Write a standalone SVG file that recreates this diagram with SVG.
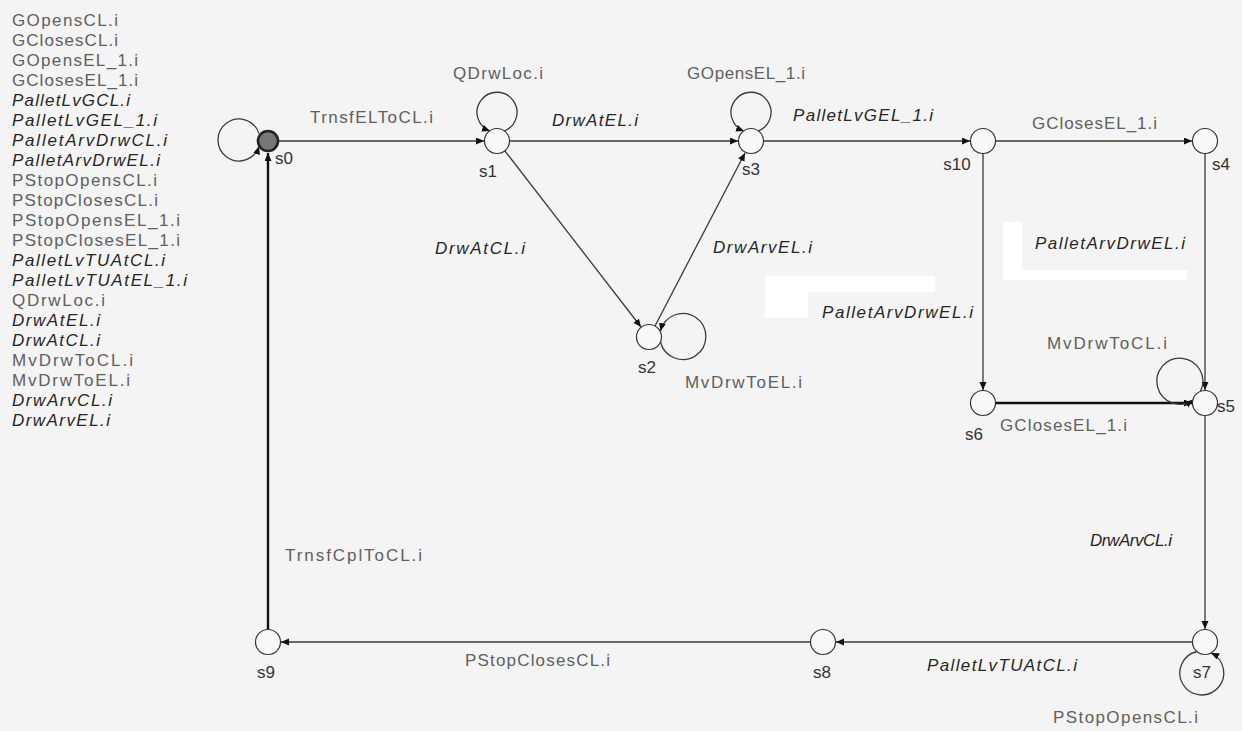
<svg xmlns="http://www.w3.org/2000/svg" width="1242" height="731" viewBox="0 0 1242 731">
  <style>
    text { font-family: "Liberation Sans", Arial, sans-serif; font-size: 17px; }
    .up { fill: #606060; }
    .it { fill: #262626; font-style: italic; }
    .nl { fill: #333; text-anchor: middle; }
    .edge { fill: none; stroke: #3a3a3a; stroke-width: 1.3; marker-end: url(#arr); }
    .bold { stroke: #111; stroke-width: 2.4; }
    .node { fill: #f8f8f8; stroke: #333; stroke-width: 1.2; }
  </style>
  <defs>
    <marker id="arr" markerWidth="9" markerHeight="8" refX="8" refY="3.5" orient="auto" markerUnits="userSpaceOnUse">
      <path d="M0,0 L8,3.5 L0,7 z" fill="#111"/>
    </marker>
  </defs>

  <rect width="1242" height="731" fill="#f4f4f4"/>

  <!-- white patches behind the right-hand labels -->
  <polygon points="765,276 935,276 935,292 808,292 808,318 765,318" fill="#ffffff"/>
  <polygon points="1003,222 1022,222 1022,270 1187,270 1187,280 1003,280" fill="#ffffff"/>

  <!-- event list -->
  <g id="event-list">
    <text class="up" x="12" y="26" textLength="106" lengthAdjust="spacing">GOpensCL.i</text>
    <text class="up" x="12" y="46" textLength="106" lengthAdjust="spacing">GClosesCL.i</text>
    <text class="up" x="12" y="66" textLength="126" lengthAdjust="spacing">GOpensEL_1.i</text>
    <text class="up" x="12" y="86" textLength="126" lengthAdjust="spacing">GClosesEL_1.i</text>
    <text class="it" x="12" y="106" textLength="118" lengthAdjust="spacing">PalletLvGCL.i</text>
    <text class="it" x="12" y="126" textLength="145" lengthAdjust="spacing">PalletLvGEL_1.i</text>
    <text class="it" x="12" y="146" textLength="155" lengthAdjust="spacing">PalletArvDrwCL.i</text>
    <text class="it" x="12" y="166" textLength="148" lengthAdjust="spacing">PalletArvDrwEL.i</text>
    <text class="up" x="12" y="186" textLength="145" lengthAdjust="spacing">PStopOpensCL.i</text>
    <text class="up" x="12" y="206" textLength="146" lengthAdjust="spacing">PStopClosesCL.i</text>
    <text class="up" x="12" y="226" textLength="168" lengthAdjust="spacing">PStopOpensEL_1.i</text>
    <text class="up" x="12" y="246" textLength="168" lengthAdjust="spacing">PStopClosesEL_1.i</text>
    <text class="it" x="12" y="266" textLength="153" lengthAdjust="spacing">PalletLvTUAtCL.i</text>
    <text class="it" x="12" y="286" textLength="175" lengthAdjust="spacing">PalletLvTUAtEL_1.i</text>
    <text class="up" x="12" y="306" textLength="93" lengthAdjust="spacing">QDrwLoc.i</text>
    <text class="it" x="12" y="326" textLength="88" lengthAdjust="spacing">DrwAtEL.i</text>
    <text class="it" x="12" y="346" textLength="88" lengthAdjust="spacing">DrwAtCL.i</text>
    <text class="up" x="12" y="366" textLength="121" lengthAdjust="spacing">MvDrwToCL.i</text>
    <text class="up" x="12" y="386" textLength="118" lengthAdjust="spacing">MvDrwToEL.i</text>
    <text class="it" x="12" y="406" textLength="100" lengthAdjust="spacing">DrwArvCL.i</text>
    <text class="it" x="12" y="426" textLength="98" lengthAdjust="spacing">DrwArvEL.i</text>
  </g>

  <!-- transitions -->
  <g id="connectors">
    <path class="edge" d="M279,141 L484,141"/>
    <path class="edge" d="M510,141 L738,141"/>
    <path class="edge" d="M764,141 L970,141"/>
    <path class="edge" d="M996,141 L1192,141"/>
    <path class="edge" d="M983,154 L983,390"/>
    <path class="edge" d="M1205,154 L1205,390"/>
    <path class="edge bold" d="M996,403 L1192,403"/>
    <path class="edge" d="M1205,416 L1205,629"/>
    <path class="edge" d="M1192,642 L836,642"/>
    <path class="edge" d="M810,642 L281,642"/>
    <path class="edge bold" d="M268,629 L268,153"/>
    <path class="edge" d="M505,151 L641,327"/>
    <path class="edge" d="M655,326 L745,153"/>
    <!-- self loops -->
    <path class="edge" d="M259,133.6 A21,21 0 1 0 259,146.4"/>
    <path class="edge" d="M504,131 A20,20 0 1 0 490,131"/>
    <path class="edge" d="M758,131 A20,20 0 1 0 744,131"/>
    <path class="edge" d="M660.5,342 A23,23 0 1 0 660.5,331"/>
    <path class="edge" d="M1200.5,391.3 A23,23 0 1 0 1192.9,400.1"/>
    <path class="edge" d="M1197,651.5 A22,22 0 1 0 1211,653"/>
  </g>

  <!-- transition labels -->
  <g id="edge-labels">
    <text class="up" x="310" y="123" textLength="123" lengthAdjust="spacing">TrnsfELToCL.i</text>
    <text class="up" x="453" y="79" textLength="90" lengthAdjust="spacing">QDrwLoc.i</text>
    <text class="it" x="552" y="126" textLength="86" lengthAdjust="spacing">DrwAtEL.i</text>
    <text class="up" x="687" y="79" textLength="118" lengthAdjust="spacing">GOpensEL_1.i</text>
    <text class="it" x="793" y="121" textLength="140" lengthAdjust="spacing">PalletLvGEL_1.i</text>
    <text class="up" x="1032" y="129" textLength="125" lengthAdjust="spacing">GClosesEL_1.i</text>
    <text class="it" x="1035" y="249" textLength="150" lengthAdjust="spacing">PalletArvDrwEL.i</text>
    <text class="it" x="435" y="254" textLength="90" lengthAdjust="spacing">DrwAtCL.i</text>
    <text class="it" x="713" y="253" textLength="99" lengthAdjust="spacing">DrwArvEL.i</text>
    <text class="it" x="822" y="318" textLength="151" lengthAdjust="spacing">PalletArvDrwEL.i</text>
    <text class="up" x="685" y="388" textLength="117" lengthAdjust="spacing">MvDrwToEL.i</text>
    <text class="up" x="1047" y="349" textLength="120" lengthAdjust="spacing">MvDrwToCL.i</text>
    <text class="up" x="1000" y="431" textLength="127" lengthAdjust="spacing">GClosesEL_1.i</text>
    <text class="it" x="1090" y="546" textLength="82" lengthAdjust="spacing">DrwArvCL.i</text>
    <text class="up" x="285" y="561" textLength="137" lengthAdjust="spacing">TrnsfCplToCL.i</text>
    <text class="up" x="465" y="666" textLength="145" lengthAdjust="spacing">PStopClosesCL.i</text>
    <text class="it" x="927" y="671" textLength="150" lengthAdjust="spacing">PalletLvTUAtCL.i</text>
    <text class="up" x="1053" y="723" textLength="145" lengthAdjust="spacing">PStopOpensCL.i</text>
  </g>

  <!-- states -->
  <g id="s0"><circle cx="268" cy="141" r="10" fill="#777" stroke="#222" stroke-width="2.6"/><text class="nl" x="284" y="164">s0</text></g>
  <g id="s1"><circle class="node" cx="497" cy="141" r="12.5"/><text class="nl" x="488" y="177">s1</text></g>
  <g id="s3"><circle class="node" cx="751" cy="141" r="12.5"/><text class="nl" x="751" y="175">s3</text></g>
  <g id="s10"><circle class="node" cx="983" cy="141" r="12.5"/><text class="nl" x="957" y="170">s10</text></g>
  <g id="s4"><circle class="node" cx="1205" cy="141" r="12.5"/><text class="nl" x="1221" y="170">s4</text></g>
  <g id="s2"><circle class="node" cx="649" cy="337" r="12.5"/><text class="nl" x="647" y="373">s2</text></g>
  <g id="s6"><circle class="node" cx="983" cy="403" r="12.5"/><text class="nl" x="974" y="440">s6</text></g>
  <g id="s5"><circle class="node" cx="1205" cy="403" r="12.5"/><text class="nl" x="1226" y="412">s5</text></g>
  <g id="s7"><circle class="node" cx="1205" cy="642" r="12.5"/><text class="nl" x="1202" y="678">s7</text></g>
  <g id="s8"><circle class="node" cx="823" cy="642" r="12.5"/><text class="nl" x="822" y="678">s8</text></g>
  <g id="s9"><circle class="node" cx="268" cy="642" r="12.5"/><text class="nl" x="266" y="678">s9</text></g>
</svg>
